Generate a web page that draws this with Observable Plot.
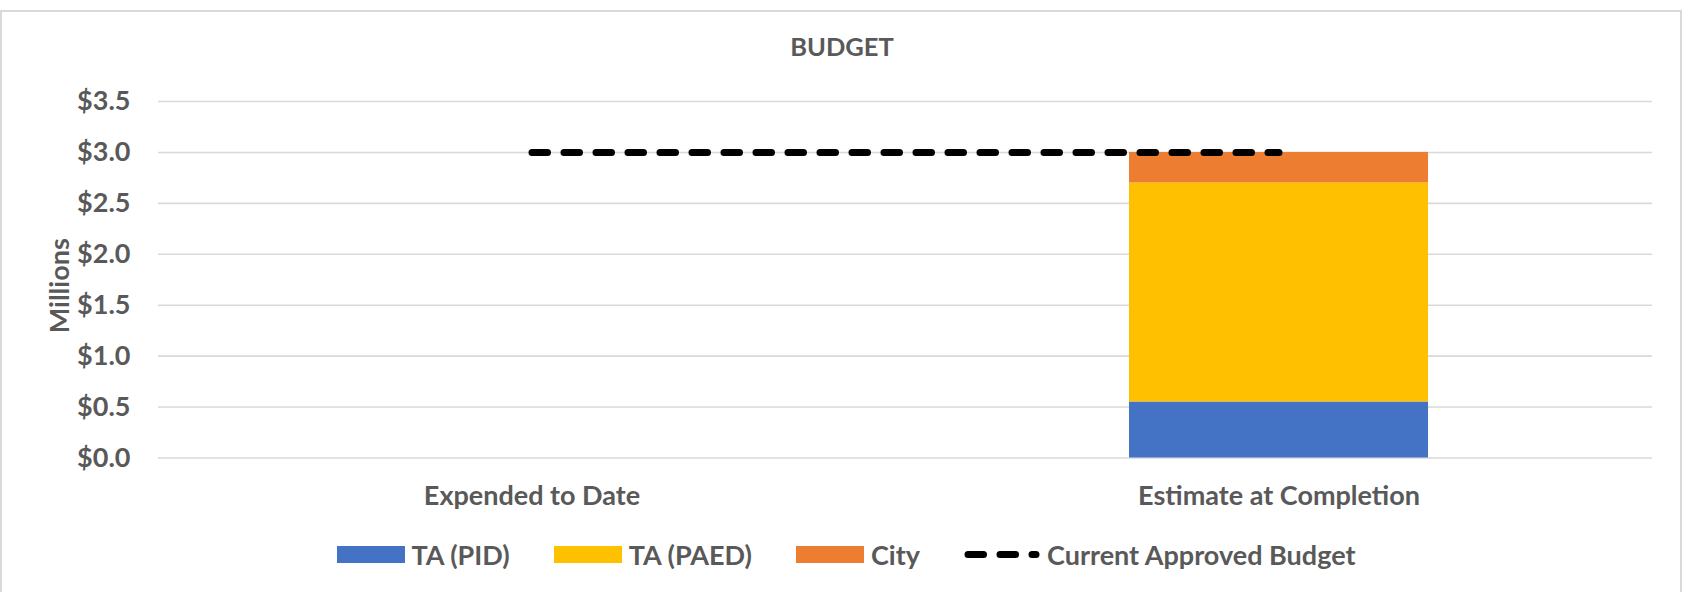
<!DOCTYPE html>
<html>
<head>
<meta charset="utf-8">
<script src="https://cdn.jsdelivr.net/npm/d3@7"></script>
<script src="https://cdn.jsdelivr.net/npm/@observablehq/plot@0.6"></script>
<style>
  html, body { margin: 0; padding: 0; width: 1688px; height: 592px; overflow: hidden; background: #fff; }
  body { position: relative; font-family: Lato, "Open Sans", sans-serif; font-weight: bold; color: #595959; }
  #border { position: absolute; left: 0; top: 10px; width: 1682px; height: 700px; border: 2px solid #d9d9d9; box-sizing: border-box; }
  #title { position: absolute; left: 0; top: 31px; width: 1684px; text-align: center; font-size: 25.5px; line-height: 30px; }
  #chart { position: absolute; left: 0; top: 80px; }
  #legend { position: absolute; left: 0; top: 539px; width: 1692px; height: 30px; display: flex; justify-content: center; align-items: center; font-size: 27px; }
  .item { display: flex; align-items: center; margin: 0 22px; }
  .item svg { display: block; margin-right: 7px; }
</style>
</head>
<body>
<div id="border"></div>
<div id="title">BUDGET</div>
<div id="chart"></div>
<div id="legend"></div>
<script>
// ---- data ----
const categories = ["Expended to Date", "Estimate at Completion"];
const seriesNames = ["TA (PID)", "TA (PAED)", "City"];
const taPID = [0, 0.55];
const taPAED = [0, 2.15];
const city = [0, 0.30];
const approvedBudget = [3.0, 3.0];
const budgetName = "Current Approved Budget";
const yTicks = [0, 0.5, 1.0, 1.5, 2.0, 2.5, 3.0, 3.5];
const seriesColors = ["#4472C4", "#FFC000", "#ED7D31"];

// ---- tables built from the arrays ----
const seriesValues = [taPID, taPAED, city];
const rows = [];
categories.forEach((c, i) => {
  seriesNames.forEach((s, k) => rows.push({category: c, series: s, value: seriesValues[k][i]}));
});
const budgetRows = categories.map((c, i) => ({category: c, value: approvedBudget[i]}));

const textColor = "#595959";
const fontSize = 27;

const plot = Plot.plot({
  width: 1688,
  height: 450,
  marginLeft: 158,
  marginRight: 36,
  marginTop: 21,
  marginBottom: 72.5,
  style: {fontFamily: "Lato, 'Open Sans', sans-serif", fontSize: fontSize + "px", fontWeight: "bold", color: textColor, background: "transparent"},
  x: {domain: categories, paddingInner: 0.6, paddingOuter: 0.3},
  y: {domain: [0, 3.5]},
  color: {domain: seriesNames, range: seriesColors},
  marks: [
    Plot.gridY(yTicks, {stroke: "#d9d9d9", strokeOpacity: 1, strokeWidth: 1.6}),
    Plot.barY(rows, Plot.stackY({x: "category", y: "value", fill: "series"})),
    Plot.lineY(budgetRows, {x: "category", y: "value", stroke: "#000", strokeWidth: 7, strokeDasharray: "15.5,16.5", strokeLinecap: "round"}),
    Plot.axisY({ticks: yTicks, tickFormat: d => "$" + d.toFixed(1), tickSize: 0, tickPadding: 28, label: null, fill: textColor}),
    Plot.axisX({tickSize: 0, tickPadding: 28, label: null, fill: textColor}),
    Plot.text(["Millions"], {frameAnchor: "left", dx: -98, dy: 6, rotate: -90, textAnchor: "middle", lineAnchor: "middle", fill: textColor})
  ]
});
document.getElementById("chart").appendChild(plot);

// ---- legend ----
const colorScale = plot.scale("color");
const legend = document.getElementById("legend");
seriesNames.forEach(s => {
  const item = document.createElement("div");
  item.className = "item";
  item.innerHTML = `<svg width="68" height="17"><rect width="68" height="17" fill="${colorScale.apply(s)}"></rect></svg><span>${s}</span>`;
  legend.appendChild(item);
});
const lineItem = document.createElement("div");
lineItem.className = "item";
lineItem.innerHTML = `<svg width="76" height="17"><line x1="4" x2="72" y1="8.5" y2="8.5" stroke="#000" stroke-width="7" stroke-dasharray="15.5,16.5" stroke-linecap="round"></line></svg><span>${budgetName}</span>`;
legend.appendChild(lineItem);
</script>
</body>
</html>
